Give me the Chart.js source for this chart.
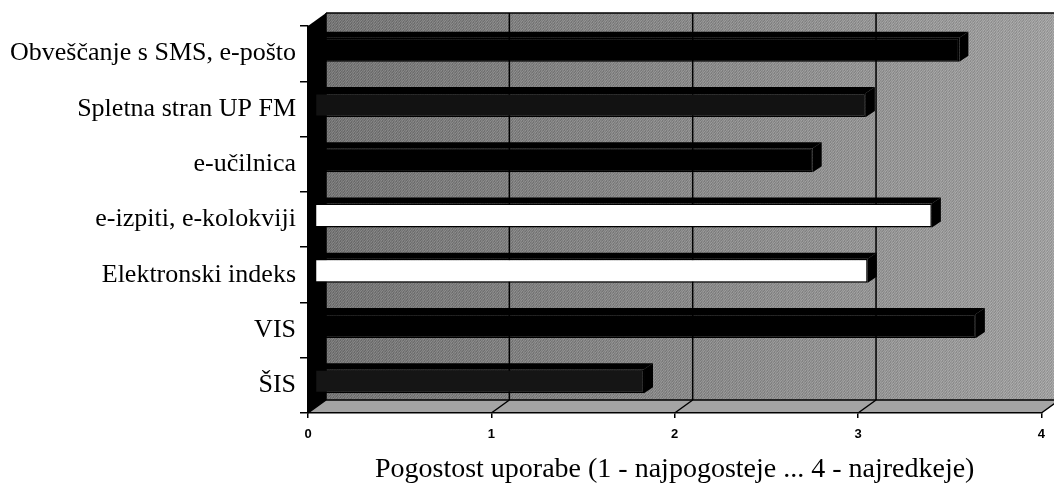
<!DOCTYPE html>
<html lang="sl">
<head>
<meta charset="UTF-8" />
<title>Pogostost uporabe</title>
<script src="https://cdn.jsdelivr.net/npm/chart.js"></script>
<style>
  html, body { margin: 0; padding: 0; background: #fff; }
  #wrap { width: 1054px; height: 484px; }
</style>
</head>
<body>
<div id="wrap"><canvas id="chart"></canvas></div>
<script>
// podatki
const categories = [
  "Obveščanje s SMS, e-pošto",
  "Spletna stran UP FM",
  "e-učilnica",
  "e-izpiti, e-kolokviji",
  "Elektronski indeks",
  "VIS",
  "ŠIS"
];
const values = [3.52, 3.01, 2.72, 3.37, 3.02, 3.61, 1.80];
const xTicks = [0, 1, 2, 3, 4];
const axisTitle = "Pogostost uporabe (1 - najpogosteje ... 4 - najredkeje)";

// izgled
const barColors = ["#000", "#121212", "#000", "#fff", "#fff", "#000", "#151515"];
const wallDepth = { dx: 18, dy: -13 };
const barShift = { dx: 6, dy: -4 };
const barDepth = { dx: 9, dy: -6 };

// stripe texture for the back wall (scanned look)
const tex = document.createElement("canvas");
tex.width = 7; tex.height = 3;
const tctx = tex.getContext("2d");
const shades = ["#5a5a5a", "#b0b0b0", "#7a7a7a", "#c4c4c4", "#666", "#9c9c9c", "#888"];
for (let i = 0; i < 7; i++) {
  for (let j = 0; j < 3; j++) {
    tctx.fillStyle = shades[(i + j * 3) % 7];
    tctx.fillRect(i, j, 1, 1);
  }
}

const box3d = {
  id: "box3d",
  beforeDraw(chart) {
    const { ctx, chartArea: a, scales: { x } } = chart;
    const L = a.left, R = a.right, T = a.top, B = a.bottom;
    const dx = wallDepth.dx, dy = wallDepth.dy;
    ctx.save();
    // back wall
    const g = ctx.createLinearGradient(L + dx, 0, R + dx, 0);
    g.addColorStop(0, "#6c6c6c");
    g.addColorStop(0.5, "#888");
    g.addColorStop(1, "#a8a8a8");
    ctx.fillStyle = g;
    ctx.fillRect(L + dx, T + dy, R - L, B - T);
    ctx.globalAlpha = 0.3;
    ctx.fillStyle = ctx.createPattern(tex, "repeat");
    ctx.fillRect(L + dx, T + dy, R - L, B - T);
    ctx.globalAlpha = 1;
    // floor
    ctx.beginPath();
    ctx.moveTo(L, B);
    ctx.lineTo(L + dx, B + dy);
    ctx.lineTo(R + dx, B + dy);
    ctx.lineTo(R, B);
    ctx.closePath();
    ctx.fillStyle = "#a4a4a4";
    ctx.fill();
    // left wall
    ctx.beginPath();
    ctx.moveTo(L, T);
    ctx.lineTo(L + dx, T + dy);
    ctx.lineTo(L + dx, B + dy);
    ctx.lineTo(L, B);
    ctx.closePath();
    ctx.fillStyle = "#000";
    ctx.fill();
    // gridlines on the back wall and floor
    ctx.strokeStyle = "#000";
    ctx.lineWidth = 1.5;
    xTicks.forEach(v => {
      const px = x.getPixelForValue(v);
      ctx.beginPath();
      ctx.moveTo(px + dx, T + dy);
      ctx.lineTo(px + dx, B + dy);
      ctx.moveTo(px, B);
      ctx.lineTo(px + dx, B + dy);
      ctx.stroke();
    });
    ctx.beginPath();
    ctx.moveTo(L + dx, B + dy);
    ctx.lineTo(R + dx, B + dy);
    ctx.moveTo(L + dx, T + dy);
    ctx.lineTo(R + dx, T + dy);
    ctx.stroke();
    ctx.restore();
  },
  beforeDatasetsDraw(chart) {
    chart.ctx.save();
    chart.ctx.translate(barShift.dx, barShift.dy);
  },
  afterDatasetsDraw(chart) {
    const ctx = chart.ctx;
    chart.getDatasetMeta(0).data.forEach(bar => {
      const { x, y, base, height } = bar.getProps(["x", "y", "base", "height"], true);
      const t = y - height / 2, b = y + height / 2;
      const dx = barDepth.dx, dy = barDepth.dy;
      ctx.fillStyle = "#000";
      // top face
      ctx.beginPath();
      ctx.moveTo(base, t);
      ctx.lineTo(base + dx, t + dy);
      ctx.lineTo(x + dx, t + dy);
      ctx.lineTo(x, t);
      ctx.closePath();
      ctx.fill();
      // side face
      ctx.beginPath();
      ctx.moveTo(x, t);
      ctx.lineTo(x + dx, t + dy);
      ctx.lineTo(x + dx, b + dy);
      ctx.lineTo(x, b);
      ctx.closePath();
      ctx.fill();
    });
    ctx.restore();
  }
};

new Chart(document.getElementById("chart"), {
  type: "bar",
  data: {
    labels: categories,
    datasets: [{
      data: values,
      backgroundColor: barColors,
      borderColor: "#000",
      borderWidth: 1.5,
      borderSkipped: false,
      categoryPercentage: 1,
      barPercentage: 0.434,
      clip: false
    }]
  },
  options: {
    indexAxis: "y",
    responsive: true,
    maintainAspectRatio: false,
    animation: false,
    layout: { padding: { top: 26, right: 6, left: 0, bottom: 0 } },
    plugins: {
      legend: { display: false },
      tooltip: { enabled: false }
    },
    scales: {
      x: {
        min: 0,
        max: 4,
        afterFit: s => { s.height = 71; },
        ticks: {
          stepSize: 1,
          color: "#000",
          padding: 9,
          font: { family: "'Liberation Sans Narrow', 'Liberation Sans', Arial, sans-serif", size: 13, weight: "bold" }
        },
        grid: { drawOnChartArea: false, drawTicks: true, tickLength: 5, color: "#000", lineWidth: 1.5 },
        border: { display: true, color: "#000", width: 1.5 },
        title: {
          display: true,
          text: axisTitle,
          color: "#000",
          padding: { top: 0, bottom: 0 },
          font: { family: "'Liberation Serif', 'Times New Roman', serif", size: 28, lineHeight: 1.0 }
        }
      },
      y: {
        afterFit: s => { s.width = 308; },
        ticks: {
          color: "#000",
          padding: 4,
          font: { family: "'Liberation Serif', 'Times New Roman', serif", size: 26 }
        },
        grid: { drawOnChartArea: false, drawTicks: true, tickLength: 8, color: "#000", lineWidth: 1.5, offset: true },
        border: { display: true, color: "#000", width: 1.5 }
      }
    }
  },
  plugins: [box3d]
});
</script>
</body>
</html>
